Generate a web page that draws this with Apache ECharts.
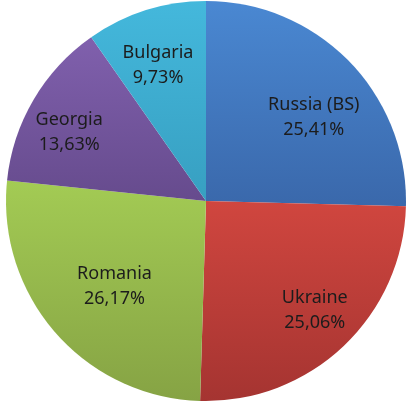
<!DOCTYPE html>
<html>
<head>
<meta charset="utf-8">
<script src="https://cdn.jsdelivr.net/npm/echarts@6/dist/echarts.min.js"></script>
<style>html,body{margin:0;padding:0;background:#fff;}#c{width:412px;height:409px;}</style>
</head>
<body>
<div id="c"></div>
<script>
const categories = ['Russia (BS)', 'Ukraine', 'Romania', 'Georgia', 'Bulgaria'];
const values = [25.41, 25.06, 26.17, 13.63, 9.73];
const topColors = ['#4a88d2', '#d0463f', '#a3cb54', '#8060ad', '#44b8dc'];
const bottomColors = ['#3a68ab', '#a53431', '#86a344', '#664b8d', '#379fc1'];
const labelOffsets = [[34, -12], [38, 35], [-14, 18], [-48, -16], [-17, -37]];

const chart = echarts.init(document.getElementById('c'), null, {renderer: 'canvas'});
const data = categories.map((name, i) => ({
  name,
  value: values[i],
  itemStyle: {
    color: new echarts.graphic.LinearGradient(0, 0, 0, 1, [
      {offset: 0, color: topColors[i]},
      {offset: 1, color: bottomColors[i]}
    ])
  },
  label: {offset: labelOffsets[i]}
}));
chart.setOption({
  animation: false,
  series: [{
    type: 'pie',
    center: [206, 201],
    radius: [0, 200],
    startAngle: 90,
    clockwise: true,
    avoidLabelOverlap: false,
    data,
    itemStyle: {borderWidth: 0},
    label: {
      show: true,
      position: 'inside',
      formatter: p => p.name + '\n' + p.value.toFixed(2).replace('.', ',') + '%',
      fontFamily: 'Noto Sans',
      fontSize: 18,
      lineHeight: 25,
      color: '#1c1c1c',
      align: 'center'
    },
    labelLine: {show: false},
    emphasis: {disabled: true}
  }]
});
</script>
</body>
</html>
